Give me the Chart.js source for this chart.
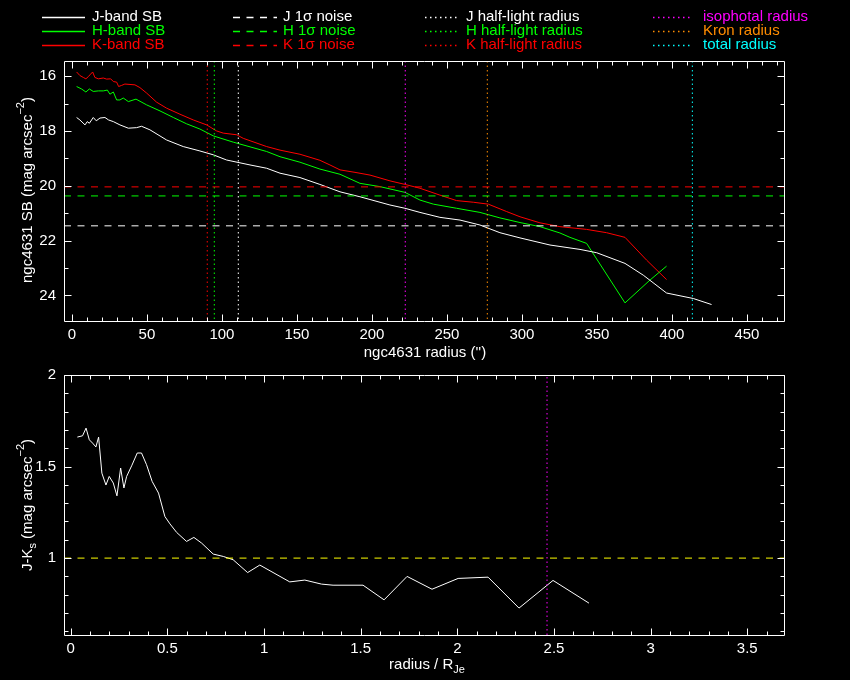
<!DOCTYPE html>
<html>
<head>
<meta charset="utf-8">
<script src="https://cdn.jsdelivr.net/npm/chart.js@4"></script>
<style>
  html, body { margin:0; padding:0; background:#000; width:850px; height:680px; overflow:hidden; }
  canvas { position:absolute; left:0; }
  #top { top:0; }
  #bot { top:350px; }
</style>
</head>
<body>
<canvas id="top" width="850" height="365"></canvas>
<canvas id="bot" width="850" height="330"></canvas>
<script>
// ---------------- data ----------------
const kRadius = [3.1,5.3,7.6,9.3,11.1,12.4,13.8,15.3,17.6,20.9,23.1,25.8,27.6,29.8,31.1,33.1,35.3,42,45.3,49.8,56.4,63.1,72,80.9,89.8,96.4,100.9,109.8,114.2,129.8,138.7,152,165.3,172,178.7,188.7,198.7,212,222,232,245.3,256.4,267.6,277.6,289.8,298.7,312,325.3,343.1,356.4,368.7,383.1,396.4];
const kSB = [15.85,15.98,16.05,16.10,16.01,15.93,15.85,16.05,16.10,16.07,16.11,16.10,16.20,16.22,16.38,16.34,16.29,16.32,16.42,16.62,16.95,17.17,17.39,17.60,17.78,18.00,18.08,18.14,18.27,18.57,18.70,18.85,19.07,19.24,19.42,19.51,19.61,19.82,19.95,20.09,20.34,20.54,20.60,20.67,20.94,21.13,21.35,21.49,21.59,21.71,21.88,22.71,23.42];

const hRadius = [3.1,6.4,9.3,11.6,14.2,17.6,20.9,23.6,25.3,27.6,29.8,32,34.2,37.6,42.7,49.8,58.7,67.6,76.4,85.3,94.2,107.6,129.8,138.7,152,165.3,178.7,192,205.3,222,232,241,256.4,272,285.3,298.7,312,325.3,332,343.1,368.7,385.3,396.4];
const hSB = [16.38,16.47,16.58,16.47,16.56,16.54,16.54,16.51,16.66,16.58,16.87,16.87,16.80,16.93,16.84,17.05,17.27,17.51,17.74,17.93,18.18,18.41,18.75,18.94,19.14,19.39,19.58,19.91,20.03,20.24,20.52,20.67,20.82,20.97,21.17,21.34,21.49,21.72,21.88,22.10,24.27,23.44,22.93];

const jRadius = [3.1,5.3,8.7,10.2,11.6,14.2,16.2,18.7,22,24.4,27.6,32,37.6,43.1,46.4,52,63.1,74.2,85.3,94.2,103.1,118.7,129.8,138.7,152,165.3,178.7,192,212,222,232,245.3,258.7,272,285.3,298.7,318.7,338.7,349.8,368.7,380.9,396.4,414.2,426.4];
const jSB = [17.51,17.60,17.78,17.66,17.72,17.51,17.63,17.53,17.51,17.60,17.66,17.78,17.90,17.88,17.83,17.96,18.33,18.57,18.73,18.87,19.06,19.24,19.36,19.54,19.70,19.95,20.22,20.40,20.70,20.82,20.97,21.15,21.25,21.43,21.71,21.90,22.16,22.32,22.44,22.83,23.26,23.91,24.11,24.33];

const noiseJ = 21.46, noiseH = 20.37, noiseK = 20.04;
const halfLightJ = 110.9, halfLightH = 94.9, halfLightK = 90.2;
const isophotalRadius = 222.2, kronRadius = 276.9, totalRadius = 413.6;

const jkRadius = [0.034,0.061,0.079,0.096,0.113,0.130,0.144,0.161,0.182,0.199,0.220,0.239,0.258,0.275,0.289,0.315,0.344,0.366,0.392,0.421,0.454,0.487,0.513,0.548,0.599,0.637,0.677,0.737,0.789,0.840,0.915,0.978,1.133,1.211,1.297,1.357,1.512,1.621,1.740,1.869,2.004,2.159,2.319,2.495,2.681];
const jkColor = [1.661,1.668,1.710,1.646,1.628,1.607,1.661,1.464,1.399,1.446,1.410,1.340,1.492,1.383,1.446,1.504,1.574,1.574,1.510,1.419,1.355,1.227,1.187,1.140,1.091,1.113,1.082,1.022,1.009,0.991,0.921,0.962,0.870,0.880,0.858,0.852,0.852,0.772,0.900,0.830,0.889,0.896,0.727,0.878,0.754];
const jkReference = 1.0;
const isophotalRatio = 2.464;

const topXTicks = [0,50,100,150,200,250,300,350,400,450];
const topYTicks = [16,18,20,22,24];
const botXTicks = [0,0.5,1,1.5,2,2.5,3,3.5];
const botYTicks = [1,1.5,2];

const topXRange = [-5.3, 474.7];
const topYRange = [15.45, 24.93];
const botXRange = [-0.035, 3.69];
const botYRange = [0.58, 2.0];

// ---------------- helpers ----------------
const FONT = '"Liberation Sans", Arial, sans-serif';
Chart.defaults.font.family = FONT;
Chart.defaults.font.size = 14;
Chart.defaults.color = '#ffffff';

const xy = (xs, ys) => xs.map((x, i) => ({x, y: ys[i]}));
const range = (a, b, s) => { const r = []; for (let v = a; v <= b + 1e-9; v += s) r.push(+v.toFixed(6)); return r; };

const GREEN = '#00ff00', RED = '#ff0000', WHITE = '#ffffff', MAG = '#ff00ff', ORANGE = '#ff8c00', CYAN = '#00ffff', YELLOW = '#ffff00';
const DASH = [7, 6.5];
const DOT = [1.5, 3];

function line(data, color, dash) {
  return { data, borderColor: color, borderWidth: 1, borderDash: dash || [], pointRadius: 0, showLine: true, fill: false, tension: 0 };
}
function hline(y, xr, color) { return line([{x: xr[0], y}, {x: xr[1], y}], color, DASH); }
function vline(x, yr, color) { return line([{x, y: yr[0]}, {x, y: yr[1]}], color, DOT); }

function drawParts(ctx, parts, cx, cy, rotate) {
  ctx.save();
  ctx.translate(cx, cy);
  if (rotate) ctx.rotate(-Math.PI / 2);
  ctx.textBaseline = 'middle';
  ctx.textAlign = 'left';
  let w = 0;
  for (const p of parts) { ctx.font = (p[1] === 'n' ? 15 : 11) + 'px ' + FONT; w += ctx.measureText(p[0]).width; }
  let x = -w / 2;
  for (const p of parts) {
    const small = p[1] !== 'n';
    ctx.font = (small ? 11 : 15) + 'px ' + FONT;
    const dy = p[1] === 'sup' ? -7 : (p[1] === 'sub' ? 5 : 0);
    ctx.fillText(p[0], x, dy);
    x += ctx.measureText(p[0]).width;
  }
  ctx.restore();
}

const framePlugin = {
  id: 'frame',
  afterDraw(chart, args, o) {
    const {ctx, chartArea: a} = chart;
    const xs = chart.scales.x, ys = chart.scales.y;
    ctx.save();
    ctx.strokeStyle = '#ffffff';
    ctx.fillStyle = '#ffffff';
    ctx.lineWidth = 1;
    const L = Math.round(a.left) + 0.5, R = Math.round(a.right) + 0.5, T = Math.round(a.top) + 0.5, B = Math.round(a.bottom) + 0.5;
    ctx.beginPath();
    ctx.rect(L, T, R - L, B - T);
    ctx.stroke();
    ctx.beginPath();
    const tick = (vals, len, axis) => {
      for (const v of vals) {
        if (axis === 'x') {
          const p = Math.round(xs.getPixelForValue(v)) + 0.5;
          if (p < L || p > R) continue;
          ctx.moveTo(p, B); ctx.lineTo(p, B - len);
          ctx.moveTo(p, T); ctx.lineTo(p, T + len);
        } else {
          const p = Math.round(ys.getPixelForValue(v)) + 0.5;
          if (p < T || p > B) continue;
          ctx.moveTo(L, p); ctx.lineTo(L + len, p);
          ctx.moveTo(R, p); ctx.lineTo(R - len, p);
        }
      }
    };
    tick(o.xMinor, 4, 'x'); tick(o.xMajor, 7, 'x');
    tick(o.yMinor, 4, 'y'); tick(o.yMajor, 7, 'y');
    ctx.stroke();
    drawParts(ctx, o.yTitle, o.yTitlePos[0], o.yTitlePos[1], true);
    drawParts(ctx, o.xTitle, o.xTitlePos[0], o.xTitlePos[1], false);
    if (o.legend) {
      ctx.font = '15px ' + FONT;
      ctx.textBaseline = 'middle';
      ctx.textAlign = 'left';
      ctx.lineWidth = 1.3;
      for (const it of o.legend) {
        ctx.strokeStyle = it.color;
        ctx.fillStyle = it.color;
        ctx.setLineDash(it.dash);
        ctx.beginPath();
        ctx.moveTo(it.x0, it.y + 0.5); ctx.lineTo(it.x1, it.y + 0.5);
        ctx.stroke();
        ctx.fillText(it.text, it.tx, it.y);
      }
      ctx.setLineDash([]);
    }
    ctx.restore();
  }
};

const cols = [
  {x0: 42, x1: 85, tx: 92, dash: [], items: [['J-band SB', WHITE], ['H-band SB', GREEN], ['K-band SB', RED]]},
  {x0: 233, x1: 277, tx: 283, dash: [7, 6.5], items: [['J 1σ noise', WHITE], ['H 1σ noise', GREEN], ['K 1σ noise', RED]]},
  {x0: 425, x1: 457, tx: 466, dash: [1.5, 3.5], items: [['J half-light radius', WHITE], ['H half-light radius', GREEN], ['K half-light radius', RED]]},
  {x0: 653, x1: 693, tx: 703, dash: [1.5, 3.5], items: [['isophotal radius', MAG], ['Kron radius', ORANGE], ['total radius', CYAN]]}
];
const rowsY = [17, 31, 45];
const legendItems = [];
cols.forEach(c => c.items.forEach((it, i) => legendItems.push({x0: c.x0, x1: c.x1, tx: c.tx, dash: c.dash, text: it[0], color: it[1], y: rowsY[i]})));

function axes(xr, yr, xt, yt, reverse, xH, yW) {
  const fmt = v => String(+(+v).toFixed(3));
  return {
    x: { type: 'linear', min: xr[0], max: xr[1],
         afterBuildTicks: s => { s.ticks = xt.map(v => ({value: v})); },
         afterFit: s => { s.height = xH; },
         grid: { display: false, drawTicks: false }, border: { display: false },
         ticks: { color: '#fff', padding: 5, maxRotation: 0, autoSkip: false, callback: fmt, font: {size: 15} } },
    y: { type: 'linear', min: yr[0], max: yr[1], reverse,
         afterBuildTicks: s => { s.ticks = yt.map(v => ({value: v})); },
         afterFit: s => { s.width = yW; },
         grid: { display: false, drawTicks: false }, border: { display: false },
         ticks: { color: '#fff', padding: 8, autoSkip: false, callback: fmt, font: {size: 15} } }
  };
}

// ---------------- top chart ----------------
new Chart(document.getElementById('top'), {
  type: 'scatter',
  data: { datasets: [
    hline(noiseJ, topXRange, WHITE),
    hline(noiseH, topXRange, GREEN),
    hline(noiseK, topXRange, RED),
    vline(halfLightJ, topYRange, WHITE),
    vline(halfLightH, topYRange, GREEN),
    vline(halfLightK, topYRange, RED),
    vline(isophotalRadius, topYRange, MAG),
    vline(kronRadius, topYRange, ORANGE),
    vline(totalRadius, topYRange, CYAN),
    line(xy(jRadius, jSB), WHITE),
    line(xy(hRadius, hSB), GREEN),
    line(xy(kRadius, kSB), RED)
  ]},
  options: {
    responsive: false, animation: false, devicePixelRatio: 1,
    layout: { padding: { top: 61, left: 0, right: 66, bottom: 0 } },
    plugins: { legend: { display: false }, tooltip: { enabled: false },
      frame: {
        xMajor: topXTicks, xMinor: range(0, 470, 10),
        yMajor: topYTicks, yMinor: range(16, 24, 1),
        yTitle: [['ngc4631 SB (mag arcsec', 'n'], ['−2', 'sup'], [')', 'n']], yTitlePos: [28, 190],
        xTitle: [["ngc4631 radius ('')", 'n']], xTitlePos: [425, 353],
        legend: legendItems
      } },
    scales: axes(topXRange, topYRange, topXTicks, topYTicks, true, 44, 64)
  },
  plugins: [framePlugin]
});

// ---------------- bottom chart ----------------
new Chart(document.getElementById('bot'), {
  type: 'scatter',
  data: { datasets: [
    hline(jkReference, botXRange, YELLOW),
    vline(isophotalRatio, botYRange, MAG),
    line(xy(jkRadius, jkColor), WHITE)
  ]},
  options: {
    responsive: false, animation: false, devicePixelRatio: 1,
    layout: { padding: { top: 25, left: 0, right: 66, bottom: 0 } },
    plugins: { legend: { display: false }, tooltip: { enabled: false },
      frame: {
        xMajor: botXTicks, xMinor: range(0, 3.6, 0.1),
        yMajor: botYTicks, yMinor: range(0.6, 2.0, 0.1),
        yTitle: [['J-K', 'n'], ['s', 'sub'], [' (mag arcsec', 'n'], ['−2', 'sup'], [')', 'n']], yTitlePos: [28, 155],
        xTitle: [['radius / R', 'n'], ['Je', 'sub']], xTitlePos: [427, 315]
      } },
    scales: axes(botXRange, botYRange, botXTicks, botYTicks, false, 45, 64)
  },
  plugins: [framePlugin]
});
</script>
</body>
</html>
